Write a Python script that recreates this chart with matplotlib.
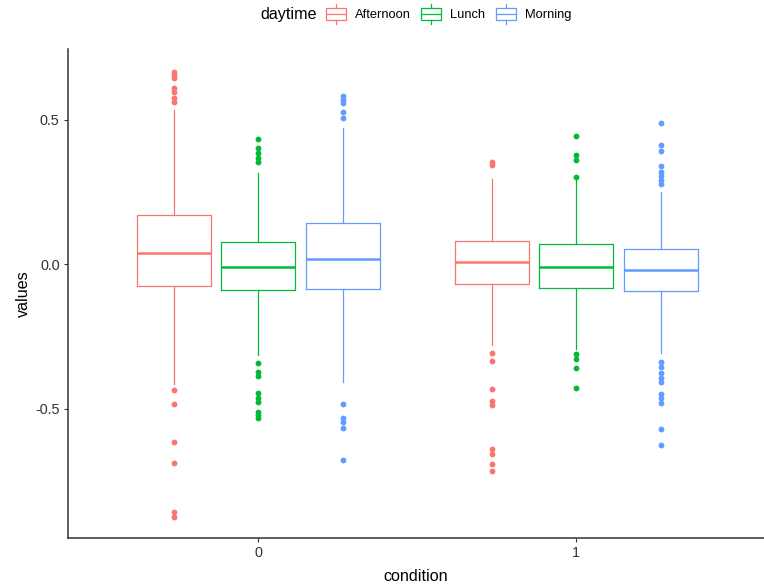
import numpy as np
import matplotlib.pyplot as plt
from matplotlib.legend_handler import HandlerBase
from matplotlib.patches import Rectangle
from matplotlib.lines import Line2D

plt.rcParams['font.family'] = ['Liberation Sans', 'DejaVu Sans']

conditions = ['0', '1']
daytimes = ['Afternoon', 'Lunch', 'Morning']
colors = ['#F8766D', '#00BA38', '#619CFF']

# box stats, one value per condition (0, 1)
q1 = {'Afternoon': [-0.076, -0.068], 'Lunch': [-0.089, -0.082], 'Morning': [-0.085, -0.093]}
med = {'Afternoon': [0.037, 0.008], 'Lunch': [-0.010, -0.009], 'Morning': [0.016, -0.021]}
q3 = {'Afternoon': [0.170, 0.081], 'Lunch': [0.077, 0.070], 'Morning': [0.141, 0.052]}
whislo = {'Afternoon': [-0.416, -0.279], 'Lunch': [-0.314, -0.293], 'Morning': [-0.407, -0.307]}
whishi = {'Afternoon': [0.533, 0.294], 'Lunch': [0.314, 0.290], 'Morning': [0.472, 0.248]}

# outliers
fliers = {
    'Afternoon': [
        [0.665, 0.655, 0.645, 0.61, 0.595, 0.575, 0.56,
         -0.436, -0.485, -0.617, -0.689, -0.859, -0.877],
        [0.354, 0.343,
         -0.307, -0.335, -0.434, -0.473, -0.487, -0.641, -0.658, -0.692, -0.717],
    ],
    'Lunch': [
        [0.434, 0.40, 0.383, 0.366, 0.354,
         -0.341, -0.372, -0.388, -0.447, -0.462, -0.476, -0.511, -0.522, -0.534],
        [0.443, 0.377, 0.360, 0.300,
         -0.313, -0.330, -0.359, -0.430],
    ],
    'Morning': [
        [0.581, 0.566, 0.556, 0.527, 0.504,
         -0.486, -0.534, -0.546, -0.569, -0.678],
        [0.487, 0.412, 0.392, 0.339, 0.319, 0.305, 0.292, 0.277,
         -0.340, -0.357, -0.378, -0.393, -0.407, -0.450, -0.465, -0.482, -0.570, -0.625],
    ],
}


class BoxKey(HandlerBase):
    # small boxplot glyph like ggplot's legend key
    def create_artists(self, legend, orig_handle, xdescent, ydescent,
                       width, height, fontsize, trans):
        c = orig_handle.get_color()
        x0, y0 = -xdescent, -ydescent
        cx = x0 + width / 2
        box = Rectangle((x0, y0 + height * 0.2), width, height * 0.6,
                        fill=False, edgecolor=c, lw=0.9, transform=trans)
        lo = Line2D([cx, cx], [y0, y0 + height * 0.2], color=c, lw=0.9, transform=trans)
        hi = Line2D([cx, cx], [y0 + height * 0.8, y0 + height], color=c, lw=0.9, transform=trans)
        md = Line2D([x0, x0 + width], [y0 + height * 0.5] * 2, color=c, lw=0.9, transform=trans)
        return [box, lo, hi, md]


fig = plt.figure(figsize=(7.64, 5.88), dpi=100)
ax = fig.add_axes([68 / 764, 50 / 588, 696 / 764, 489 / 588])

offsets = [-0.266, 0.0, 0.266]
x = np.arange(len(conditions))
for j, d in enumerate(daytimes):
    c = colors[j]
    stats = []
    for i in range(len(conditions)):
        stats.append(dict(med=med[d][i], q1=q1[d][i], q3=q3[d][i],
                          whislo=whislo[d][i], whishi=whishi[d][i],
                          fliers=fliers[d][i]))
    ax.bxp(stats, positions=x + offsets[j], widths=0.233, showcaps=False,
           boxprops=dict(color=c, lw=0.9),
           whiskerprops=dict(color=c, lw=0.9),
           medianprops=dict(color=c, lw=1.8),
           flierprops=dict(marker='o', markerfacecolor=c, markeredgecolor='none', markersize=4.2),
           manage_ticks=False)

ax.set_xlim(-0.598, 1.59)
ax.set_ylim(-0.948, 0.744)
ax.set_xticks(x)
ax.set_xticklabels(conditions)
ax.set_yticks([-0.5, 0.0, 0.5])
ax.set_yticklabels(['-0.5', '0.0', '0.5'])

for s in ['top', 'right']:
    ax.spines[s].set_visible(False)
for s in ['left', 'bottom']:
    ax.spines[s].set_color('#333333')
    ax.spines[s].set_linewidth(1.1)
ax.tick_params(length=3, width=0.8, color='#333333', labelsize=10.4, labelcolor='#333333', pad=3)

ax.set_xlabel('condition', fontsize=11.6, labelpad=6)
ax.set_ylabel('values', fontsize=11.6, labelpad=3)

handles = [Line2D([], [], color=c) for c in colors]
fig.legend(handles, daytimes, handler_map={Line2D: BoxKey()},
           loc='center left', bbox_to_anchor=(326 / 764, 1 - 14 / 588),
           ncol=3, frameon=False, fontsize=9.3,
           handlelength=1.55, handleheight=2.0, handletextpad=0.7,
           columnspacing=0.8, borderpad=0, borderaxespad=0)
fig.text(260 / 764, 1 - 15 / 588, 'daytime', ha='left', va='center', fontsize=11.6)

fig.savefig('out.png', dpi=100)
